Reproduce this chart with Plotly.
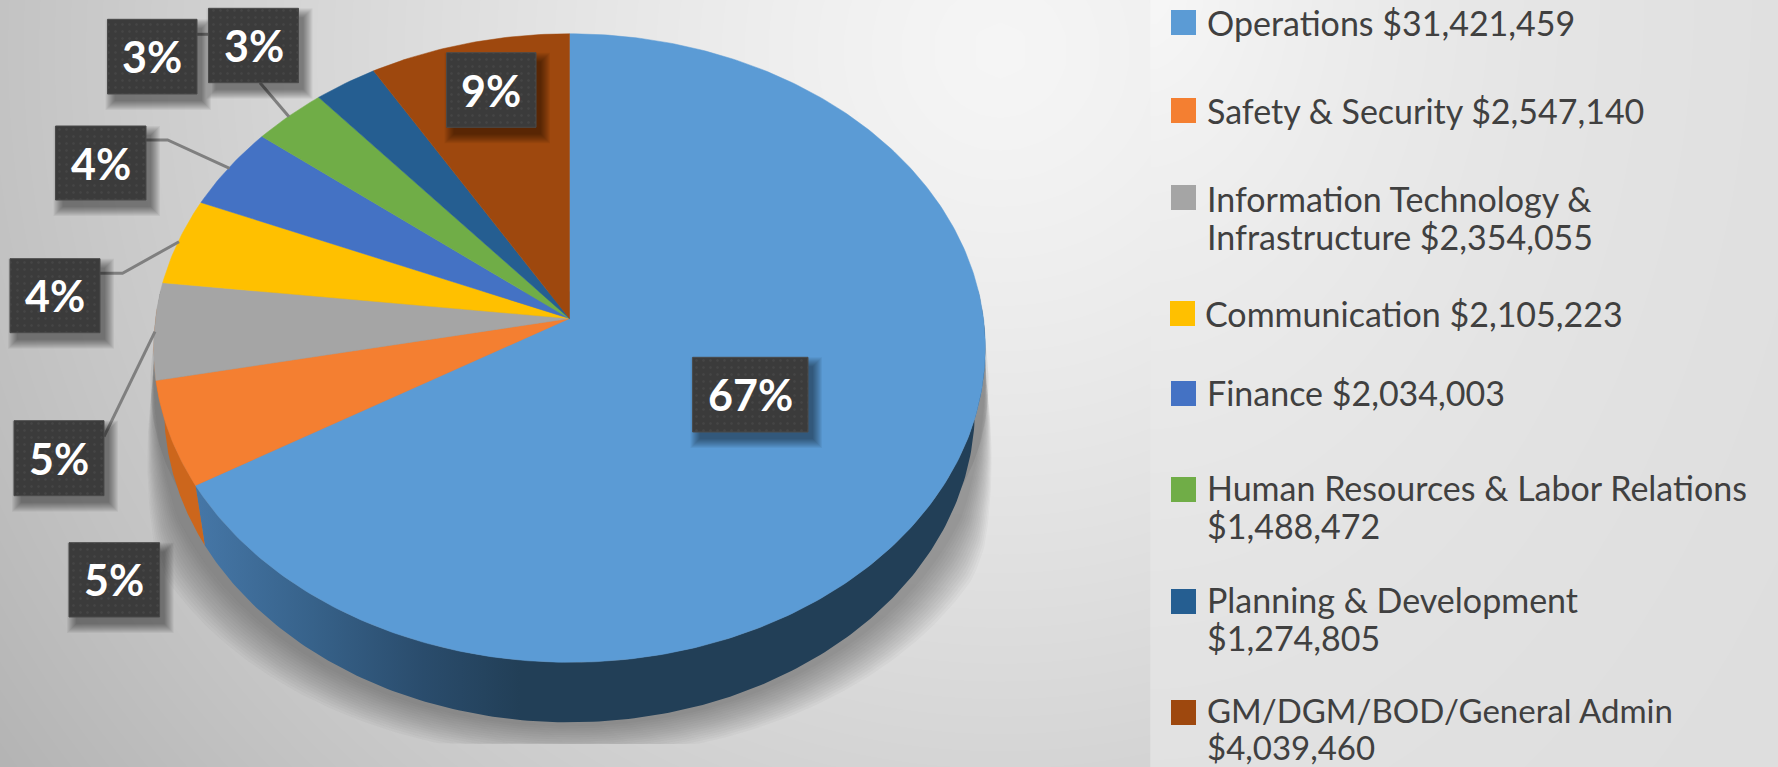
import numpy as np
import plotly.graph_objects as go

# ---- data ----
categories = ["Operations", "Safety & Security", "Information Technology & Infrastructure",
              "Communication", "Finance", "Human Resources & Labor Relations",
              "Planning & Development", "GM/DGM/BOD/General Admin"]
values = [31421459, 2547140, 2354055, 2105223, 2034003, 1488472, 1274805, 4039460]
pct_labels = ["67%", "5%", "5%", "4%", "4%", "3%", "3%", "9%"]
colors = ["#5b9bd5", "#f47f31", "#a5a5a5", "#ffc000", "#4472c4", "#70ad47", "#255e91", "#9e480e"]
legend_lines = [["Operations $31,421,459"], ["Safety & Security $2,547,140"],
                ["Information Technology &", "Infrastructure $2,354,055"],
                ["Communication $2,105,223"], ["Finance $2,034,003"],
                ["Human Resources & Labor Relations", "$1,488,472"],
                ["Planning & Development", "$1,274,805"],
                ["GM/DGM/BOD/General Admin", "$4,039,460"]]

# ---- layout geometry (pixels of the canvas) ----
CX, CY = 569.5, 318.5
A, B, K = 414.0, 311.5, 0.094
DEPTH, SHRINK = 60.0, 0.975
swatch_pos = [(1171, 10), (1171, 98), (1171, 185), (1170, 301), (1171, 381), (1171, 477), (1171, 589), (1171, 700)]
text_pos = [[(1207, 22)], [(1207, 110)], [(1207, 198), (1207, 236)], [(1205, 313)], [(1207, 392)],
            [(1207, 487), (1207, 525)], [(1207, 599), (1207, 637)], [(1207, 710), (1207, 747)]]
text_size = [34, 34, 34, 34, 34, 34, 34, 33]
label_boxes = [(692.6, 357.3, 808, 432), (69, 542.7, 159.6, 617), (14, 420.7, 104, 495.7),
               (10, 258.7, 100, 332.7), (55.5, 126, 146, 200), (107.5, 19.3, 197, 94),
               (208.5, 8.3, 298.5, 82.7), (446.6, 52.7, 536, 127.3)]
leaders = [[(104, 436.7), (155, 331.7)], [(100, 273.3), (122.5, 273.3), (179, 241.7)],
           [(146, 140), (167.6, 140), (229.6, 168.3)], [(197, 34.3), (209, 34.3)],
           [(260, 82.7), (289, 116.7)]]


def rim(theta):
    """Perspective projection of the pie's circular rim; theta clockwise from 12 o'clock."""
    u, v = np.sin(theta), np.cos(theta)
    d = 1 + K * v
    return CX + A * u / d, CY - B * v / d


def low(theta):
    x, y = rim(theta)
    return CX + (x - CX) * SHRINK, y + DEPTH


fractions = np.array(values, float) / sum(values)
edges = np.concatenate([[0], np.cumsum(fractions)]) * 2 * np.pi

fig = go.Figure()

# ---- background ----
def bg(xs, ys, f):
    X, Y = np.meshgrid(xs, ys)
    fig.add_trace(go.Heatmap(x=xs, y=ys, z=f(X, Y), zmin=0, zmax=255, zsmooth="best", showscale=False,
                             colorscale=[[0, "#000000"], [1, "#ffffff"]], hoverinfo="skip"))

bg(np.linspace(-20, 1160, 60), np.linspace(-20, 790, 30),
   lambda X, Y: 245 - 50 * np.sqrt(((X - 1000) / 1000) ** 2 + ((Y - 50) / 1000) ** 2) ** 1.3)
bg(np.linspace(1156, 1800, 57), np.linspace(-20, 790, 30),
   lambda X, Y: 218 + 30 * np.exp(-1.6 * np.sqrt(((X - 1140) / 640) ** 2 + ((Y + 20) / 900) ** 2)))

def poly(x, y, **kw):
    fig.add_trace(go.Scatter(x=x, y=y, mode="lines", fill="toself", hoverinfo="skip", showlegend=False, **kw))

# ---- cast shadow under the pie ----
SHADOW_LIMIT = 744
t = np.linspace(np.radians(85), np.radians(275), 240)
rx, ry = rim(t)
wedge = np.clip((ry - 345) / 165, 0, 1) * np.clip((640 - ry) / 120, 0, 1)
poly(CX + (rx - CX) * (1 + 25 * wedge / A), ry, line=dict(width=0), fillcolor="rgba(70,70,70,0.10)")
for i in range(14, -1, -1):
    taper = np.clip((ry - 345) / 140, 0, 1)
    grow = i * 2.2 * taper
    sx = CX + (rx - CX) * (1 + grow / A)
    sy = np.minimum(ry + (DEPTH + 4 + i * 2.2) * np.clip((ry - 300) / 150, 0, 1), SHADOW_LIMIT)
    poly(sx, sy, line=dict(width=0), fillcolor="rgba(70,70,70,0.036)")

# ---- side wall ----
def wall(t0, t1, **kw):
    t = np.linspace(t0, t1, 200)
    x1, y1 = rim(t)
    x2, y2 = low(t[::-1])
    poly(np.concatenate([x1, x2]), np.concatenate([y1, y2]), line=dict(width=0), **kw)

wall(np.radians(88), edges[1],
     fillcolor="#223f57",
     fillgradient=dict(type="horizontal", start=200, stop=520,
                       colorscale=[[0, "#4576a6"], [0.35, "#37628a"], [0.7, "#2a4c6c"], [1, "#223f57"]]))
wall(edges[1], np.radians(272), fillcolor="#cc661c")

# ---- top surface, one polygon per slice ----
for i, name in enumerate(categories):
    t = np.linspace(edges[i], edges[i + 1], max(8, int(fractions[i] * 500)))
    x, y = rim(t)
    poly(np.concatenate([[CX], x, [CX]]), np.concatenate([[CY], y, [CY]]),
         line=dict(width=0.5, color=colors[i]), fillcolor=colors[i], name=name)

# ---- leader lines ----
for pts in leaders:
    fig.add_trace(go.Scatter(x=[p[0] for p in pts], y=[p[1] for p in pts], mode="lines",
                             line=dict(color="#7f7f7f", width=3), hoverinfo="skip", showlegend=False))

# ---- percentage label boxes ----
for (x0, y0, x1, y1), lab in zip(label_boxes, pct_labels):
    for g in range(9, -1, -1):
        poly([x0 + 7 - g, x1 + 5 + g, x1 + 5 + g, x0 + 7 - g, x0 + 7 - g],
             [y0 + 9 - g, y0 + 9 - g, y1 + 7 + g, y1 + 7 + g, y0 + 9 - g],
             line=dict(width=0), fillcolor="rgba(0,0,0,0.05)")
    poly([x0, x1, x1, x0, x0], [y0, y0, y1, y1, y0], line=dict(width=1, color="#4a4a4a"),
         fillcolor="#3a3a3a",
         fillpattern=dict(shape=".", bgcolor="#3b3b3b", fgcolor="#505050", size=7, solidity=0.1))
    fig.add_annotation(x=(x0 + x1) / 2, y=(y0 + y1) / 2, text=f"<b>{lab}</b>", showarrow=False,
                       xanchor="center", yanchor="middle",
                       font=dict(family="Lato", size=43, color="#ffffff"))

# ---- legend: swatches and text ----
for (sx, sy), c in zip(swatch_pos, colors):
    poly([sx, sx + 25, sx + 25, sx, sx], [sy, sy, sy + 25, sy + 25, sy], line=dict(width=0), fillcolor=c)
for lines, positions, size in zip(legend_lines, text_pos, text_size):
    for line, (tx, ty) in zip(lines, positions):
        fig.add_annotation(x=tx, y=ty, text=line, showarrow=False, xanchor="left", yanchor="middle",
                           xshift=-2, font=dict(family="Lato", size=size, color="#404040"))

fig.update_layout(width=1778, height=767, margin=dict(l=0, r=0, t=0, b=0), showlegend=False,
                  paper_bgcolor="#e0e0e0", plot_bgcolor="#e0e0e0",
                  xaxis=dict(range=[0, 1778], visible=False, fixedrange=True, domain=[0, 1]),
                  yaxis=dict(range=[767, 0], visible=False, fixedrange=True, domain=[0, 1]))
fig.write_html("out.html", config=dict(displayModeBar=False),
               post_script="document.body.style.margin='0';document.body.style.overflow='hidden';")
